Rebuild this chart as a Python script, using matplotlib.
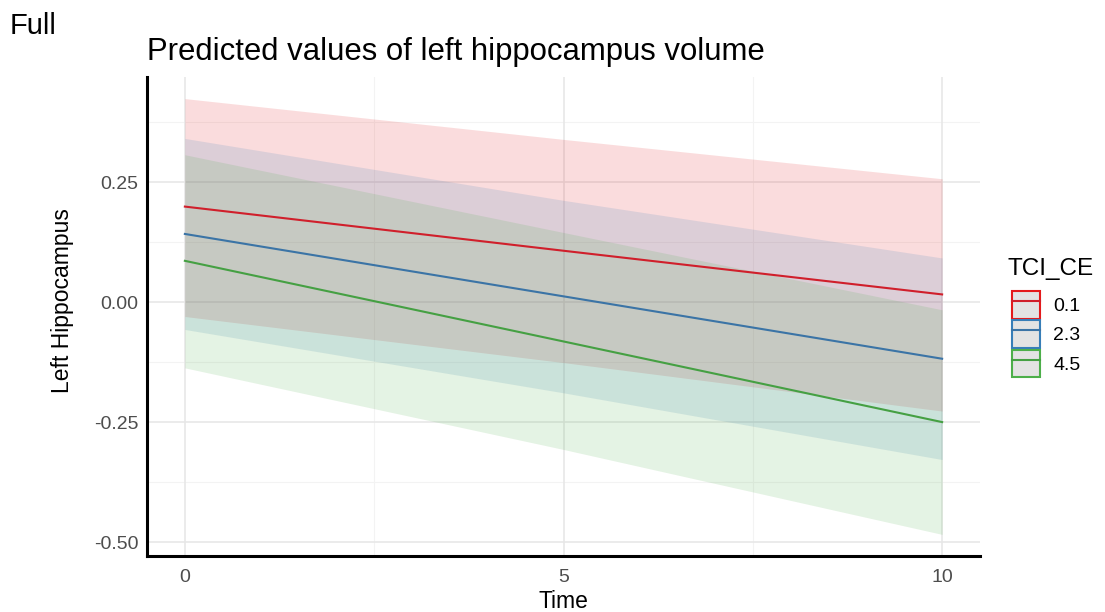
import matplotlib
matplotlib.use("Agg")
import matplotlib.pyplot as plt
from matplotlib.patches import Patch
from matplotlib.lines import Line2D
from matplotlib.legend_handler import HandlerTuple

plt.rcParams['font.family'] = ['Liberation Sans', 'DejaVu Sans']

# Data
time = [0, 5, 10]
groups = ["0.1", "2.3", "4.5"]
fit = {
    "0.1": [0.199, 0.107, 0.016],
    "2.3": [0.142, 0.012, -0.118],
    "4.5": [0.086, -0.082, -0.250],
}
upper = {
    "0.1": [0.424, 0.339, 0.257],
    "2.3": [0.341, 0.212, 0.092],
    "4.5": [0.307, 0.145, -0.016],
}
lower = {
    "0.1": [-0.030, -0.126, -0.227],
    "2.3": [-0.057, -0.189, -0.328],
    "4.5": [-0.137, -0.307, -0.484],
}
xticks = [0, 5, 10]
yticks = [-0.50, -0.25, 0.00, 0.25]
ytick_labels = ["-0.50", "-0.25", "0.00", "0.25"]

fill_colors = {"0.1": "#E41A1C", "2.3": "#377EB8", "4.5": "#4DAF4A"}
line_colors = {"0.1": "#D01F2B", "2.3": "#3B74A6", "4.5": "#45A043"}

W, H = 1105, 612
fig = plt.figure(figsize=(W/100, H/100), dpi=100)
ax = fig.add_axes([147/W, 1-556/H, 833/W, 479/H])

# grid
for v in [2.5, 7.5]:
    ax.axvline(v, color="#f3f3f3", lw=0.8, zorder=0)
for v in [-0.375, -0.125, 0.125, 0.375]:
    ax.axhline(v, color="#f3f3f3", lw=0.8, zorder=0)
for v in xticks:
    ax.axvline(v, color="#e6e6e6", lw=1.1, zorder=0)
for v in yticks:
    ax.axhline(v, color="#e6e6e6", lw=1.1, zorder=0)

for g in groups:
    ax.fill_between(time, lower[g], upper[g], color=fill_colors[g], alpha=0.15, lw=0, zorder=1)
for g in groups:
    ax.plot(time, fit[g], color=line_colors[g], lw=1.5, zorder=2)

ax.set_xlim(-0.5, 10.5)
ax.set_ylim(-0.529, 0.469)
ax.set_xticks(xticks)
ax.set_xticklabels([str(t) for t in xticks])
ax.set_yticks(yticks)
ax.set_yticklabels(ytick_labels)
ax.tick_params(axis="both", length=0, labelsize=14, labelcolor="#4d4d4d")
ax.tick_params(axis="y", pad=6)
ax.tick_params(axis="x", pad=9)

for s in ["top", "right"]:
    ax.spines[s].set_visible(False)
for s in ["left", "bottom"]:
    ax.spines[s].set_linewidth(2.2)
    ax.spines[s].set_color("black")

fig.text(563/W, 1-601/H, "Time", fontsize=16.5, ha="center", va="center")
fig.text(62/W, 1-301/H, "Left Hippocampus", fontsize=16.5, ha="center", va="center", rotation=90)
fig.text(147/W, 1-60/H, "Predicted values of left hippocampus volume", fontsize=22.4,
         ha="left", va="baseline")
fig.text(10/W, 1-34/H, "Full", fontsize=21, ha="left", va="baseline")

fig.text(1008/W, 1-275/H, "TCI_CE", fontsize=17.5, ha="left", va="baseline")
handles = []
for g in groups:
    p = Patch(facecolor="#e3e3e3", edgecolor=fill_colors[g], lw=1.5)
    l = Line2D([], [], color=line_colors[g], lw=1.5)
    handles.append((p, l))
leg = fig.legend(handles, groups, handler_map={tuple: HandlerTuple(ndivide=1, pad=0)},
                 loc="upper left", bbox_to_anchor=(1012/W, 1-291/H),
                 frameon=False, fontsize=14, handlelength=1.44,
                 handleheight=1.8, labelspacing=0.1, handletextpad=0.67, borderaxespad=0,
                 borderpad=0)

fig.savefig("out.png", dpi=100)
